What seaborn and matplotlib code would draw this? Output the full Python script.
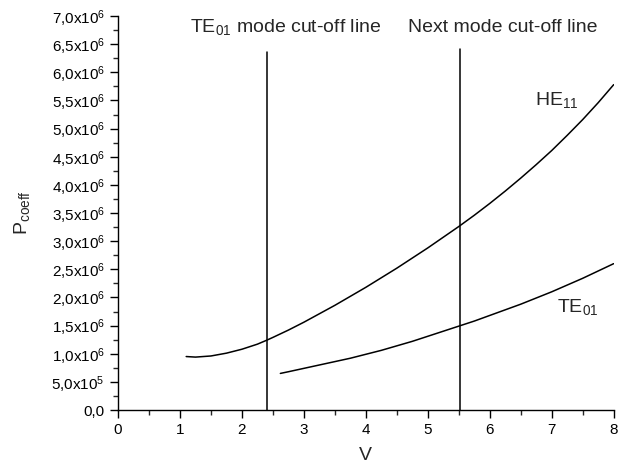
import numpy as np
import pandas as pd
import matplotlib
matplotlib.use("Agg")
import matplotlib.pyplot as plt
from matplotlib.ticker import MultipleLocator, FuncFormatter
import seaborn as sns

# values (P_coeff in units of 1e6)
he11_v = [1.10, 1.25, 1.50, 1.75, 2.00, 2.25, 2.40, 2.50, 2.75, 3.00, 3.25, 3.50, 3.75, 4.00,
          4.25, 4.50, 4.75, 5.00, 5.25, 5.50, 5.75, 6.00, 6.25, 6.50, 6.75, 7.00, 7.25,
          7.50, 7.75, 8.00]
he11_p = [0.95, 0.94, 0.96, 1.01, 1.08, 1.17, 1.24, 1.29, 1.42, 1.56, 1.71, 1.86, 2.02, 2.18,
          2.35, 2.52, 2.70, 2.88, 3.07, 3.26, 3.46, 3.67, 3.89, 4.12, 4.36, 4.61, 4.88,
          5.16, 5.46, 5.78]
te01_v = [2.62, 2.75, 3.00, 3.25, 3.50, 3.75, 4.00, 4.25, 4.50, 4.75, 5.00, 5.25, 5.50, 5.75,
          6.00, 6.25, 6.50, 6.75, 7.00, 7.25, 7.50, 7.75, 8.00]
te01_p = [0.65, 0.68, 0.74, 0.80, 0.86, 0.92, 0.99, 1.06, 1.14, 1.22, 1.31, 1.40, 1.49, 1.58,
          1.68, 1.78, 1.88, 1.99, 2.10, 2.22, 2.34, 2.47, 2.60]
cutoff_v = [2.405, 5.52]
cutoff_top = [6.36, 6.42]

sns.set_style("ticks")
plt.rcParams['font.family'] = ['Liberation Sans', 'DejaVu Sans']
plt.rcParams['mathtext.fontset'] = 'custom'
plt.rcParams['mathtext.rm'] = 'Liberation Sans'

df_he = pd.DataFrame({'V': he11_v, 'P': np.array(he11_p) * 1e6})
df_te = pd.DataFrame({'V': te01_v, 'P': np.array(te01_p) * 1e6})

fig = plt.figure(figsize=(6.18, 4.71), dpi=100)
ax = fig.add_axes([0.191, 0.1295, 0.802, 0.8365])

sns.lineplot(data=df_he, x='V', y='P', ax=ax, color='black', lw=1.1)
sns.lineplot(data=df_te, x='V', y='P', ax=ax, color='black', lw=1.1)
for v, top in zip(cutoff_v, cutoff_top):
    ax.plot([v, v], [0, top * 1e6], color='black', lw=1.1)

ax.set_xlim(0, 8)
ax.set_ylim(0, 7e6)
ax.xaxis.set_major_locator(MultipleLocator(1))
ax.xaxis.set_minor_locator(MultipleLocator(0.5))
ax.yaxis.set_major_locator(MultipleLocator(0.5e6))
ax.yaxis.set_minor_locator(MultipleLocator(0.25e6))


def yfmt(val, pos):
    if val <= 1:
        return '0,0'
    exp = int(np.floor(np.log10(val) + 1e-9))
    mant = ('%.1f' % (val / 10 ** exp)).replace('.', '{,}')
    return '$\\mathregular{%sx10^{%d}}$' % (mant, exp)


ax.yaxis.set_major_formatter(FuncFormatter(yfmt))
ax.tick_params(which='major', direction='out', length=6, width=1.0, labelsize=11, colors='black')
ax.tick_params(which='minor', direction='out', length=3.5, width=1.0)
sns.despine(ax=ax)
for s in ['left', 'bottom']:
    ax.spines[s].set_linewidth(1.0)
    ax.spines[s].set_color('black')

ax.set_xlabel('V', fontsize=14, labelpad=7)
ax.set_ylabel('$\\mathregular{P_{coeff}}$', fontsize=14, labelpad=14)

ax.text(1.16, 6.8e6, '$\\mathregular{TE_{01}}$ mode cut-off line', fontsize=14, va='center')
ax.text(4.68, 6.8e6, 'Next mode cut-off line', fontsize=14, va='center')
ax.text(6.73, 5.5e6, '$\\mathregular{HE_{11}}$', fontsize=14, va='center')
ax.text(7.09, 1.83e6, '$\\mathregular{TE_{01}}$', fontsize=14, va='center')

fig.savefig('out.png', dpi=100)
